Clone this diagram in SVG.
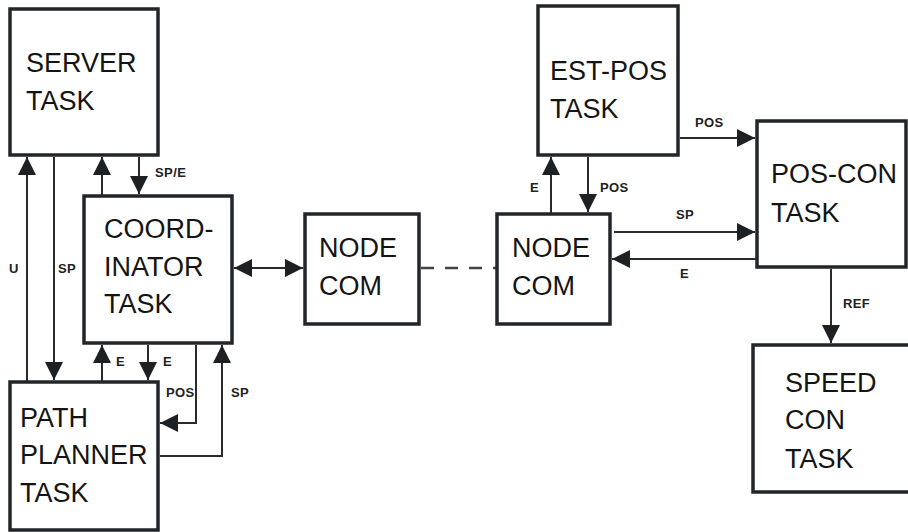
<svg xmlns="http://www.w3.org/2000/svg" width="908" height="532" viewBox="0 0 908 532">
  <style>
    .box { fill: #ffffff; stroke: #22262a; stroke-width: 3.5; }
    .name { font-family: "Liberation Sans", Arial, sans-serif; font-size: 27px; fill: #141414; }
    .wire { fill: none; stroke: #2b2a2a; stroke-width: 2; }
    .dash { fill: none; stroke: #444; stroke-width: 2.5; stroke-dasharray: 13 11; }
    .tag { font-family: "Liberation Sans", Arial, sans-serif; font-size: 13px; font-weight: bold; fill: #222; letter-spacing: 0.4px; }
  </style>
  <defs>
    <marker id="head" markerUnits="userSpaceOnUse" markerWidth="18" markerHeight="18" refX="16" refY="8" orient="auto-start-reverse" viewBox="0 0 16 16">
      <path d="M0,0 L16,8 L0,16 Z" fill="#1e2124"/>
    </marker>
  </defs>

  <g id="connectors">
    <!-- server / coordinator / path planner links -->
    <line class="wire" x1="27" y1="382" x2="27" y2="157" marker-end="url(#head)"/>
    <line class="wire" x1="54" y1="157" x2="54" y2="380" marker-end="url(#head)"/>
    <line class="wire" x1="102" y1="196" x2="102" y2="157" marker-end="url(#head)"/>
    <line class="wire" x1="139" y1="157" x2="139" y2="194" marker-end="url(#head)"/>
    <line class="wire" x1="102" y1="382" x2="102" y2="345" marker-end="url(#head)"/>
    <line class="wire" x1="148" y1="345" x2="148" y2="380" marker-end="url(#head)"/>
    <path class="wire" d="M196,345 V423 H160" marker-end="url(#head)"/>
    <path class="wire" d="M160,456 H222 V345" marker-end="url(#head)"/>
    <!-- coordinator to node com -->
    <line class="wire" x1="234" y1="268" x2="303" y2="268" marker-start="url(#head)" marker-end="url(#head)"/>
    <line class="dash" x1="421" y1="268" x2="496" y2="268"/>
    <!-- remote node side -->
    <line class="wire" x1="551" y1="214" x2="551" y2="157" marker-end="url(#head)"/>
    <line class="wire" x1="588" y1="157" x2="588" y2="212" marker-end="url(#head)"/>
    <line class="wire" x1="680" y1="138" x2="755" y2="138" marker-end="url(#head)"/>
    <line class="wire" x1="614" y1="232" x2="755" y2="232" marker-end="url(#head)"/>
    <line class="wire" x1="757" y1="259" x2="612" y2="259" marker-end="url(#head)"/>
    <line class="wire" x1="831" y1="269" x2="831" y2="343" marker-end="url(#head)"/>

    <text class="tag" x="9" y="273">U</text>
    <text class="tag" x="58" y="273">SP</text>
    <text class="tag" x="155" y="177">SP/E</text>
    <text class="tag" x="116" y="366">E</text>
    <text class="tag" x="163" y="366">E</text>
    <text class="tag" x="166" y="397">POS</text>
    <text class="tag" x="231" y="397">SP</text>
    <text class="tag" x="530" y="192">E</text>
    <text class="tag" x="600" y="192">POS</text>
    <text class="tag" x="695" y="127">POS</text>
    <text class="tag" x="676" y="219">SP</text>
    <text class="tag" x="680" y="278">E</text>
    <text class="tag" x="843" y="308">REF</text>
  </g>

  <g id="server-task">
    <rect class="box" x="10" y="9" width="148" height="146"/>
    <text class="name" x="26" y="72">SERVER</text>
    <text class="name" x="26" y="110">TASK</text>
  </g>

  <g id="coordinator-task">
    <rect class="box" x="84" y="196" width="148" height="147"/>
    <text class="name" x="104" y="238">COORD-</text>
    <text class="name" x="104" y="276">INATOR</text>
    <text class="name" x="104" y="313">TASK</text>
  </g>

  <g id="path-planner-task">
    <rect class="box" x="10" y="382" width="148" height="148"/>
    <text class="name" x="20" y="427">PATH</text>
    <text class="name" x="20" y="464">PLANNER</text>
    <text class="name" x="20" y="502">TASK</text>
  </g>

  <g id="node-com-local">
    <rect class="box" x="305" y="214" width="114" height="110"/>
    <text class="name" x="319" y="257">NODE</text>
    <text class="name" x="319" y="295">COM</text>
  </g>

  <g id="node-com-remote">
    <rect class="box" x="497" y="214" width="113" height="110"/>
    <text class="name" x="512" y="257">NODE</text>
    <text class="name" x="512" y="295">COM</text>
  </g>

  <g id="est-pos-task">
    <rect class="box" x="538" y="6" width="140" height="149"/>
    <text class="name" x="550" y="80">EST-POS</text>
    <text class="name" x="550" y="118">TASK</text>
  </g>

  <g id="pos-con-task">
    <rect class="box" x="757" y="121" width="149" height="146"/>
    <text class="name" x="771" y="183">POS-CON</text>
    <text class="name" x="771" y="222">TASK</text>
  </g>

  <g id="speed-con-task">
    <rect class="box" x="753" y="345" width="170" height="147"/>
    <text class="name" x="785" y="392">SPEED</text>
    <text class="name" x="785" y="429">CON</text>
    <text class="name" x="785" y="468">TASK</text>
  </g>
</svg>
